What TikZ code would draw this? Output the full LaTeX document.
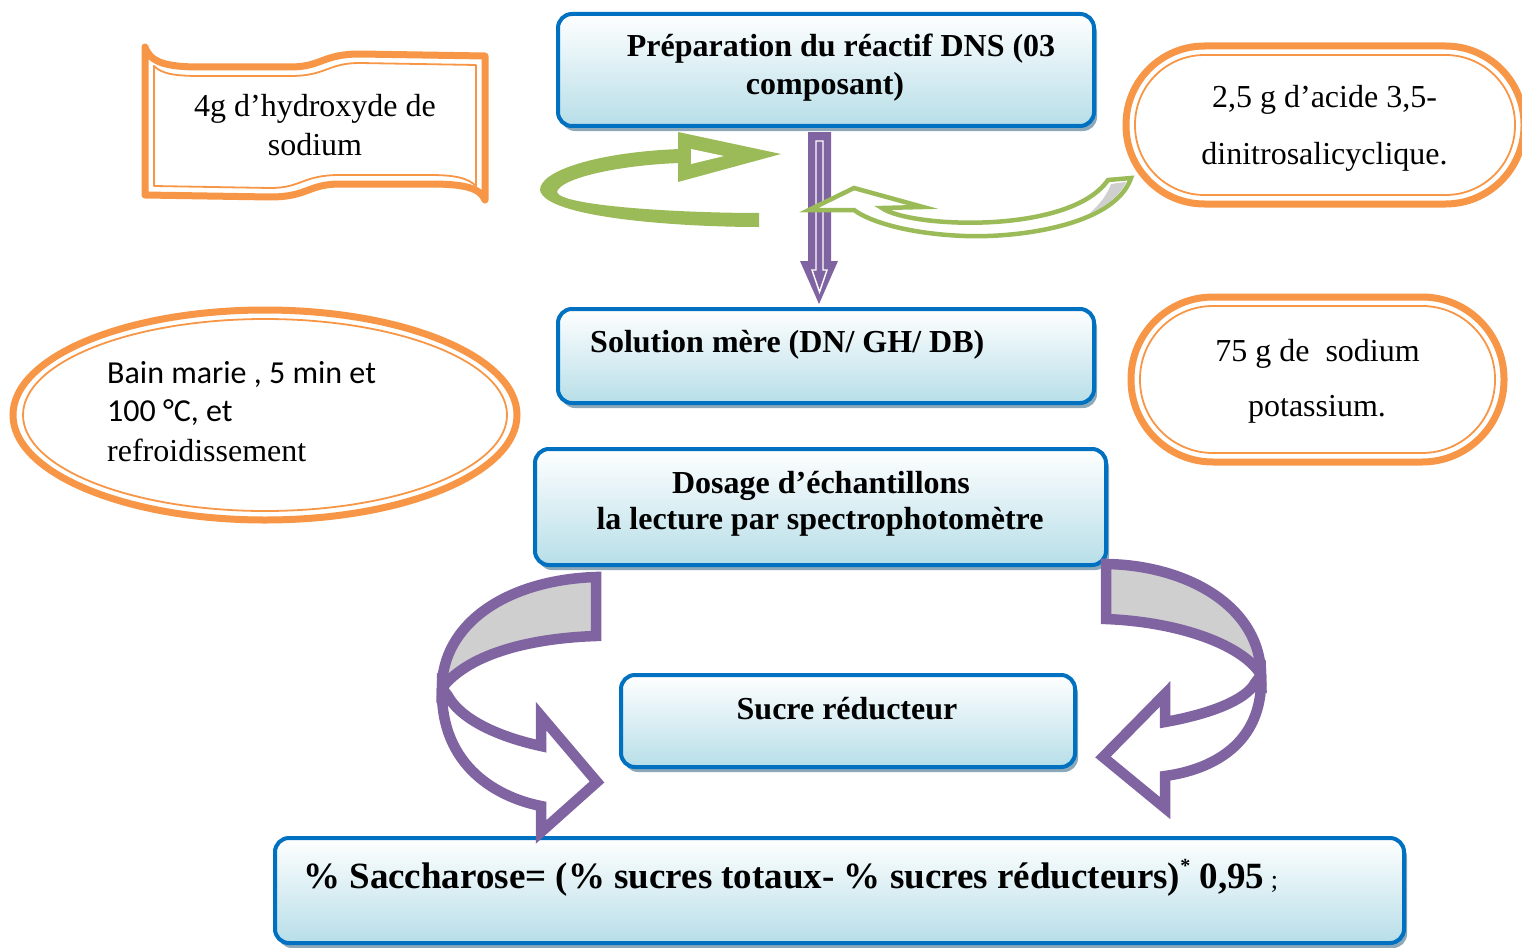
\documentclass[tikz,border=0pt]{standalone}
\usepackage{fontspec}
\setmainfont{Liberation Serif}
\newfontfamily\calib{Carlito}
\usetikzlibrary{shapes.geometric,shadows,calc}
\definecolor{obl}{HTML}{0070C0}
\definecolor{oli}{HTML}{B7DEE8}
\definecolor{osh}{HTML}{8DA9B9}
\definecolor{oor}{HTML}{F79646}
\definecolor{ogr}{HTML}{9BBB59}
\definecolor{opu}{HTML}{8064A2}
\definecolor{ogy}{HTML}{CFCFCF}
\tikzset{
  bluebox/.style={draw=obl, line width=4pt, rounded corners=14pt, top color=white, bottom color=oli,
    inner sep=0pt, drop shadow={shadow xshift=3pt, shadow yshift=-5pt, fill=osh, opacity=1}},
  orthick/.style={draw=oor, line width=7pt},
  orthin/.style={draw=oor, line width=1.8pt},
  lbl/.style={inner sep=0pt, anchor=base, font=\fontsize{32}{38}\selectfont},
  lblb/.style={inner sep=0pt, anchor=base, font=\fontsize{32}{38}\selectfont\bfseries},
  lblw/.style={inner sep=0pt, anchor=base west, font=\fontsize{32}{38}\selectfont},
  purparrow/.style={draw=opu, line width=10.5pt, line join=miter, miter limit=4},
}
\begin{document}
\begin{tikzpicture}[x=1pt,y=-1pt]
\useasboundingbox (0,0) rectangle (1522,947);

% ---- blue boxes
\node[bluebox, minimum width=536pt, minimum height=112pt] (prep) at (826,70) {};
\node[bluebox, minimum width=536pt, minimum height=94pt] (sol) at (826,356) {};
\node[bluebox, minimum width=571pt, minimum height=116pt] (dos) at (820.5,507) {};
\node[bluebox, minimum width=454pt, minimum height=92pt] (suc) at (848,721) {};
\node[bluebox, minimum width=1129pt, minimum height=105pt] (res) at (839.5,890.5) {};

\node[lblb] (prepA) at (841,57) {Préparation du réactif DNS (03};
\node[lblb] (prepB) at (825,95) {composant)};
\node[lblb, anchor=base west] (solT) at (590,352) {Solution mère (DN/ GH/ DB)};
\node[lblb] (dosA) at (821,493) {Dosage d’échantillons};
\node[lblb] (dosB) at (820,529) {la lecture par spectrophotomètre};
\node[lblb] (sucT) at (847,719) {Sucre réducteur};
\node[inner sep=0pt, anchor=base west, font=\fontsize{37}{44}\selectfont\bfseries] (resT) at (303,888)
  {\% Saccharose= (\% sucres totaux- \% sucres réducteurs)\raisebox{16pt}{\fontsize{20}{20}\selectfont *} 0,95\fontsize{26}{30}\selectfont\mdseries\ ;};

% ---- orange wave box
\path[orthick, line join=round]
 (145,47) .. controls (150,62) and (165,67) .. (200,67) -- (290,67)
 .. controls (322,67) and (322,54) .. (360,54) -- (485,56) -- (485,200)
 .. controls (480,188) and (465,184) .. (430,184) -- (340,184)
 .. controls (308,184) and (308,197) .. (270,197) -- (145,195) -- cycle;
\path[orthin, line join=round]
 (154,66) .. controls (162,74) and (175,76) .. (200,76) -- (290,76)
 .. controls (327,76) and (327,63) .. (360,63) -- (476,65) -- (476,186)
 .. controls (468,178) and (455,175) .. (430,175) -- (340,175)
 .. controls (302,175) and (302,188) .. (270,188) -- (154,186) -- cycle;
\node[lbl] (waveA) at (315,117) {4g d’hydroxyde de};
\node[lbl] (waveB) at (315,155) {sodium};

% ---- orange pills
\node[orthick, rounded corners=78.5pt, minimum width=398pt, minimum height=158pt, inner sep=0pt] (pillA) at (1325,125) {};
\draw[orthin, rounded corners=69.5pt] (1135,55) rectangle (1515,195);
\node[lbl] (pillAa) at (1324.5,108) {2,5 g d’acide 3,5-};
\node[lbl] (pillAb) at (1324.5,164) {dinitrosalicyclique.};

\node[orthick, rounded corners=82pt, minimum width=373pt, minimum height=165pt, inner sep=0pt] (pillB) at (1317.5,379.5) {};
\draw[orthin, rounded corners=73pt] (1140,306) rectangle (1495,453);
\node[lbl] (pillBa) at (1317.5,361) {75 g de\ \ sodium};
\node[lbl] (pillBb) at (1317,416) {potassium.};

% ---- orange ellipse
\node[orthick, ellipse, minimum width=504pt, minimum height=210pt, inner sep=0pt] (bain) at (265,415) {};
\draw[orthin] (bain.center) ellipse [x radius=242, y radius=96];
\node[lblw, font=\fontsize{32}{38}\selectfont\calib] (bainA) at (107,383) {Bain marie , 5 min et};
\node[lblw, font=\fontsize{32}{38}\selectfont\calib] (bainB) at (107,421) {100 °C, et};
\node[lblw] (bainC) at (107,461) {refroidissement};

% ---- purple down arrow
\coordinate (dtop) at (819.5,132);
\coordinate (dtip) at (819,304);
\fill[opu] (808,132) -- (831,132) -- (831,261) -- (838,261) -- (dtip) -- (800,261) -- (808,261) -- cycle;
\draw[white, line width=1.4pt, line join=miter] (816,141) -- (823,141) -- (823,270) -- (827,270) -- (819.5,292) -- (812,270) -- (816,270) -- cycle;

% ---- green left circular arrow
\fill[ogr] (680,149) .. controls (600,152) and (540,170) .. (540,190)
  .. controls (545,218) and (680,227) .. (759,227) -- (759,213)
  .. controls (680,213) and (560,206) .. (557,192)
  .. controls (560,178) and (620,165) .. (680,163) -- cycle;
\fill[ogr] (678,132) -- (781,154) -- (678,182) -- cycle;
\fill[white] (691,149) -- (724,156) -- (691,164) -- cycle;

% ---- green right curved arrow
\filldraw[fill=white, draw=ogr, line width=4.5pt, line join=miter]
  (809,210) -- (854,188) -- (923,207) -- (882,208)
  .. controls (910,228) and (1070,235) .. (1108,180) -- (1131,178)
  .. controls (1115,225) and (1020,238) .. (965,236)
  .. controls (910,234) and (870,222) .. (854,210) -- cycle;
\fill[ogy] (1111,184) -- (1126,182) .. controls (1119,198) and (1102,208) .. (1090,213)
  .. controls (1100,204) and (1107,195) .. (1111,184) -- cycle;

% ---- purple left U-arrow
\filldraw[purparrow, fill=ogy] (596,577) .. controls (505,580) and (442,625) .. (442,688)
  .. controls (470,652) and (535,638) .. (596,636) -- cycle;
\filldraw[purparrow, fill=white] (442,688) .. controls (440,768) and (500,798) .. (541,806)
  -- (541,832) -- (597,782) -- (541,716) -- (541,746)
  .. controls (495,736) and (460,718) .. (448,696) -- cycle;

% ---- purple right U-arrow
\filldraw[purparrow, fill=ogy] (1106,564) .. controls (1185,565) and (1260,605) .. (1261,675)
  .. controls (1243,645) and (1180,622) .. (1106,619) -- cycle;
\filldraw[purparrow, fill=white] (1261,675) .. controls (1264,745) and (1210,770) .. (1165,776)
  -- (1165,808) -- (1103,757) -- (1165,694) -- (1165,722)
  .. controls (1210,714) and (1246,700) .. (1255,683) -- cycle;
\end{tikzpicture}
\end{document}
